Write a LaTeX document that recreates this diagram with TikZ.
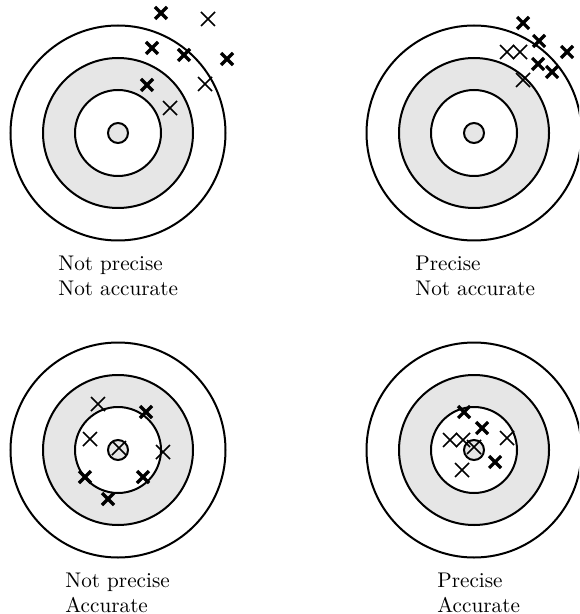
\documentclass[tikz,border=0pt]{standalone}
\usepackage{tikz}
\definecolor{ringGray}{HTML}{E6E6E6}

\begin{document}
\begin{tikzpicture}[x=0.5pt,y=-0.5pt,
    ring/.style={line width=1pt},
    thinx/.style={line width=0.8pt},
    thickx/.style={line width=1.6pt},
    lbl/.style={anchor=base west,inner sep=0pt,align=left,
      font=\fontsize{10.6}{12.5}\selectfont}]
    \useasboundingbox (0,0) rectangle (579,614);
    \clip (0,0) rectangle (579,614);
    \coordinate (tA) at (118,133);
    \coordinate (tB) at (474,133);
    \coordinate (tC) at (118,450);
    \coordinate (tD) at (474,450);
    % targets
    \foreach \c in {tA,tB,tC,tD}{
      \draw[ring] (\c) circle (107.5);
      \filldraw[ring,fill=ringGray] (\c) circle (75);
      \filldraw[ring,fill=white] (\c) circle (43);
      \filldraw[ring,fill=ringGray] (\c) circle (10);
    }
    % hits
    \foreach \p in {(161,13),(152,48),(184,55),(227,59),(147,85),
                    (523,23),(539,41),(567,52),(538,64),(552,72),
                    (146,412),(85,477),(143,477),(108,499),
                    (464,412),(482,428),(495,462)}
      \draw[thickx] \p ++(-6,-6) -- ++(12,12) \p ++(-6,6) -- ++(12,-12);
    \foreach \p in {(208,19),(205,84),(170,108),
                    (507,52),(520,52),(523,80),
                    (98,404),(90,439),(119,448),(163,452),
                    (450,440),(463,440),(507,438),(474,447),(462,470)}
      \draw[thinx] \p ++(-7,-7) -- ++(14,14) \p ++(-7,7) -- ++(14,-14);
    % captions (base = last line)
    \node[lbl] (capA) at (58,295) {Not precise\\Not accurate};
    \node[lbl] (capB) at (415,295) {Precise\\Not accurate};
    \node[lbl] (capC) at (65,612) {Not precise\\Accurate};
    \node[lbl] (capD) at (437,612) {Precise\\Accurate};
  \end{tikzpicture}
\end{document}
